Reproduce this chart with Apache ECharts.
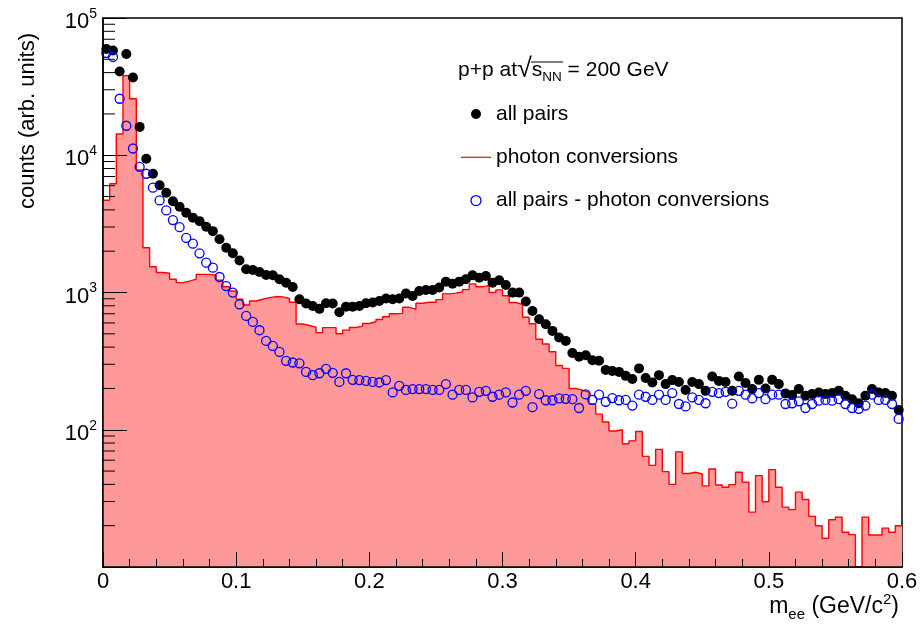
<!DOCTYPE html>
<html>
<head>
<meta charset="utf-8">
<script src="https://cdn.jsdelivr.net/npm/echarts@6/dist/echarts.min.js"></script>
<style>
html,body{margin:0;padding:0;background:#ffffff;}
#chart{width:922px;height:633px;}
</style>
</head>
<body>
<div id="chart"></div>
<script>
// ---------- axis settings ----------
const X_MIN = 0, X_MAX = 0.6, X_STEP = 0.1;
const BIN_WIDTH = 0.005;           // 120 bins of 5 MeV
const Y_MIN = 10, Y_MAX = 100000;
const xTickLabels = ['0', '0.1', '0.2', '0.3', '0.4', '0.5', '0.6'];
const yMinorFactors = [2, 3, 4, 5, 6, 7, 8, 9];
const yDecades = [10, 100, 1000, 10000];

// ---------- data (per bin, 0 .. 0.6 GeV/c^2) ----------
const allPairs = [
  59400, 58000, 40800, 54600, 36900, 16090, 9420, 7330, 6050, 5330,
  4625, 4220, 3810, 3510, 3310, 3010, 2800, 2440, 2120, 1930,
  1710, 1475, 1460, 1410, 1340, 1335, 1250, 1180, 1097, 893,
  832, 798, 760, 834, 832, 718, 789, 789, 798, 834,
  845, 867, 903, 893, 903, 982, 944, 1025, 1043, 1043,
  1087, 1200, 1160, 1200, 1250, 1335, 1283, 1320, 1180, 1227,
  1135, 998, 998, 859, 733, 638, 587, 525, 470, 444,
  362, 341, 349, 321, 318, 273, 268, 264, 247, 234,
  280, 238, 221, 250, 215, 230, 223, 195, 223, 215,
  192, 244, 227, 223, 192, 244, 219, 198, 231, 200,
  231, 215, 184, 179, 198, 177, 182, 187, 182, 185,
  192, 177, 167, 156, 177, 198, 187, 185, 177, 139
];
const photonConversions = [
  4700, 6200, 14300, 38000, 25800, 7800, 2120, 1540, 1400, 1380,
  1250, 1180, 1210, 1250, 1355, 1355, 1335, 1230, 1100, 1025,
  893, 811, 867, 893, 917, 934, 930, 905, 850, 590,
  575, 560, 510, 555, 555, 500, 532, 556, 569, 595,
  612, 636, 665, 700, 705, 780, 755, 835, 850, 850,
  887, 978, 990, 1010, 1050, 1155, 1100, 1128, 1000, 1045,
  946, 846, 820, 660, 592, 456, 421, 370, 294, 280,
  200, 194, 188, 154, 130, 114, 98, 100, 79, 83,
  97, 64, 55, 72, 49.5, 40, 69, 48, 49, 47.6,
  39, 51.8, 39.6, 38.1, 39.8, 49, 41.4, 25.1, 46.3, 29.9,
  51.2, 38.1, 27.3, 26.2, 35.1, 31, 23.4, 20, 16.2, 22.1,
  23.1, 17.9, 17.2, 0, 23.1, 17.1, 17.1, 19.2, 17.9, 20
];
const allMinusConversions = [
  55600, 52000, 25800, 16400, 11200, 8240, 7330, 5800, 4690, 3960,
  3370, 2990, 2500, 2270, 1930, 1650, 1516, 1297, 1114, 998,
  820, 675, 610, 531, 444, 408, 369, 318, 309, 305,
  264, 250, 258, 278, 260, 223, 258, 231, 230, 227,
  223, 221, 230, 187, 209, 195, 198, 198, 198, 195,
  195, 215, 180, 195, 195, 172, 189, 192, 174, 180,
  187, 158, 180, 192, 146, 182, 164, 164, 169, 168,
  167, 144, 181, 165, 180, 160, 170, 164, 165, 150,
  180, 174, 165, 180, 165, 185, 154, 148, 172, 165,
  156, 189, 185, 189, 155, 192, 180, 169, 185, 167,
  180, 180, 154, 156, 161, 144, 154, 163, 165, 163,
  167, 154, 144, 142, 150, 180, 165, 165, 154, 120
];

// ---------- build series data through the axes ----------
const FONT = '"Liberation Sans", Arial, Helvetica, sans-serif';
const binLeft = i => X_MIN + i * BIN_WIDTH;
const binCenter = i => X_MIN + (i + 0.5) * BIN_WIDTH;

const histData = photonConversions.map((v, i) => [binLeft(i), v > 0 ? v : Y_MIN]);
histData.push([X_MAX, photonConversions[photonConversions.length - 1]]);
const allData = allPairs.map((v, i) => [binCenter(i), v]);
const diffData = allMinusConversions.map((v, i) => [binCenter(i), v]);

const minorTickData = [];
yDecades.forEach(d => yMinorFactors.forEach(k => minorTickData.push([X_MIN, k * d])));

const chart = echarts.init(document.getElementById('chart'), null, {renderer: 'canvas'});

const option = {
  animation: false,
  backgroundColor: '#ffffff',
  grid: {
    left: 103, top: 18, width: 799, height: 549,
    show: true, borderColor: '#000', borderWidth: 1.5, backgroundColor: 'transparent',
    containLabel: false, outerBoundsMode: 'none'
  },
  title: {
    left: 458, top: 56, padding: 0,
    text: '{a|p+p at}{r|√}{s|s}{n|NN}{a| = 200 GeV}',
    textStyle: {
      fontWeight: 'normal',
      rich: {
        a: {fontSize: 21, fontFamily: FONT, fontWeight: 'normal', color: '#000', lineHeight: 28},
        r: {fontSize: 27, fontFamily: FONT, fontWeight: 'normal', color: '#000', lineHeight: 28},
        s: {fontSize: 21, fontFamily: FONT, fontWeight: 'normal', color: '#000', lineHeight: 28},
        n: {fontSize: 13.5, fontFamily: FONT, fontWeight: 'normal', color: '#000', lineHeight: 12, verticalAlign: 'bottom'}
      }
    }
  },
  legend: {
    left: 461, top: 103, orient: 'vertical', padding: 0,
    itemWidth: 30, itemHeight: 10, itemGap: 21.3,
    selectedMode: false,
    textStyle: {fontSize: 21, fontFamily: FONT, color: '#000', lineHeight: 22},
    data: [
      {name: 'all pairs', icon: 'circle', itemStyle: {color: '#000', opacity: 1}},
      {name: 'photon conversions', icon: 'path://M0,4.4 L30,4.4 L30,5.6 L0,5.6 Z',
       itemStyle: {color: '#ff0000', borderWidth: 0}},
      {name: 'all pairs - photon conversions', icon: 'circle',
       itemStyle: {color: 'rgba(0,0,0,0)', borderColor: '#0000ff', borderWidth: 1.3}}
    ]
  },
  xAxis: {
    type: 'value', min: X_MIN, max: X_MAX, interval: X_STEP,
    z: 10,
    axisLine: {show: true, onZero: false, lineStyle: {color: '#000', width: 1.5}},
    axisTick: {show: true, inside: true, length: 15, lineStyle: {color: '#000', width: 1}},
    minorTick: {show: true, splitNumber: 5, length: 8, lineStyle: {color: '#000', width: 1}},
    splitLine: {show: false},
    minorSplitLine: {show: false},
    axisLabel: {
      margin: 4, fontSize: 22, fontFamily: FONT, color: '#000',
      formatter: v => xTickLabels[Math.round((v - X_MIN) / X_STEP)]
    }
  },
  yAxis: {
    type: 'log', logBase: 10, min: Y_MIN, max: Y_MAX,
    z: 10,
    axisLine: {show: true, onZero: false, lineStyle: {color: '#000', width: 1.5}},
    axisTick: {show: true, inside: true, length: 24, lineStyle: {color: '#000', width: 1}},
    minorTick: {show: false},
    splitLine: {show: false},
    axisLabel: {
      margin: 6, color: '#000', padding: [8, 0, 0, 0],
      formatter: v => {
        const e = Math.round(Math.log10(v));
        return e < 2 ? '' : '{b|10}{s|' + e + '}';
      },
      rich: {
        b: {fontSize: 22, fontFamily: FONT, color: '#000', lineHeight: 30},
        s: {fontSize: 14, fontFamily: FONT, color: '#000', lineHeight: 16, verticalAlign: 'top'}
      }
    }
  },
  graphic: [
    {type: 'text', x: 28, y: 121, rotation: Math.PI / 2,
     style: {text: 'counts (arb. units)', font: '22px ' + FONT, fill: '#000',
             textAlign: 'center', textVerticalAlign: 'middle'}},
    {type: 'text', x: 899, y: 607,
     style: {text: '{m|m}{e|ee}{t| (GeV/c}{p|2}{t|)}', fill: '#000',
             textAlign: 'right', textVerticalAlign: 'middle',
             rich: {
               m: {fontSize: 23, fontFamily: FONT, lineHeight: 30},
               t: {fontSize: 23, fontFamily: FONT, lineHeight: 30},
               e: {fontSize: 15, fontFamily: FONT, lineHeight: 14, verticalAlign: 'bottom'},
               p: {fontSize: 15, fontFamily: FONT, lineHeight: 16, verticalAlign: 'top'}
             }}},
    {type: 'line', shape: {x1: 531, y1: 62, x2: 563, y2: 62}, style: {stroke: '#000', lineWidth: 1}}
  ],
  series: [
    {
      name: 'photon conversions', type: 'line', step: 'end',
      symbol: 'none', showSymbol: false,
      data: histData,
      lineStyle: {color: '#ff0000', width: 1.4},
      itemStyle: {color: '#ff0000'},
      areaStyle: {color: '#ff9999', opacity: 1, origin: 'start'},
      emphasis: {disabled: true},
      z: 2
    },
    {
      name: 'all pairs', type: 'scatter', symbol: 'circle', symbolSize: 10,
      data: allData,
      itemStyle: {color: '#000', opacity: 1},
      emphasis: {disabled: true},
      z: 3
    },
    {
      name: 'all pairs - photon conversions', type: 'scatter', symbol: 'circle', symbolSize: 9,
      data: diffData,
      itemStyle: {color: 'rgba(0,0,0,0)', borderColor: '#0000ff', borderWidth: 1.3, opacity: 1},
      emphasis: {disabled: true},
      z: 4
    },
    {
      type: 'custom', silent: true, clip: false, z: 11,
      data: minorTickData,
      renderItem: (params, api) => {
        const p = api.coord([api.value(0), api.value(1)]);
        return {type: 'line', shape: {x1: p[0], y1: p[1], x2: p[0] + 12, y2: p[1]},
                style: {stroke: '#000', lineWidth: 1}};
      }
    }
  ]
};
chart.setOption(option);
</script>
</body>
</html>
